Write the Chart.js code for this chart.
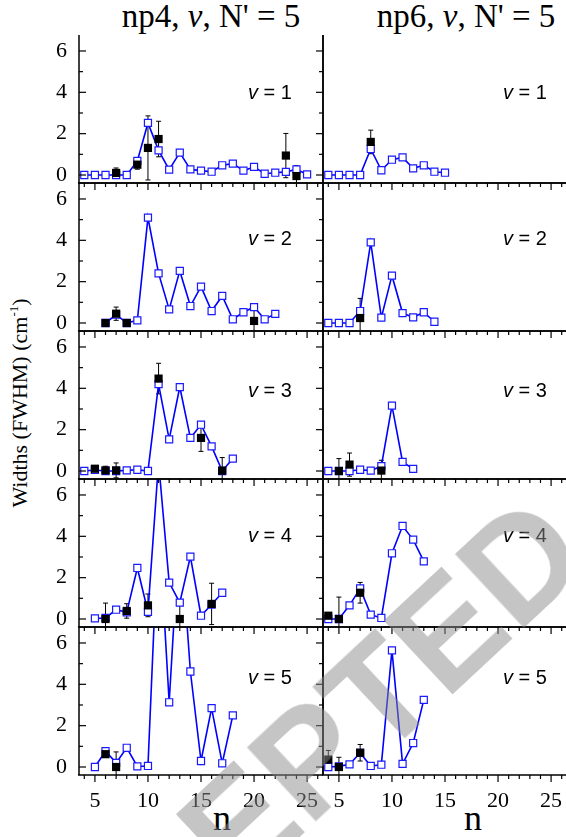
<!DOCTYPE html>
<html>
<head>
<meta charset="utf-8">
<script src="https://cdn.jsdelivr.net/npm/chart.js@4.4.1/dist/chart.umd.min.js"></script>
<style>
  body { margin: 0; width: 566px; height: 837px; overflow: hidden; background: #fff; position: relative; font-family: "Liberation Serif", serif; color: #000; }
  canvas { position: absolute; }
  .hdr { position: absolute; top: 0px; font-size: 33px; line-height: 33px; white-space: nowrap; transform: translateX(-50%); }
  .xt { position: absolute; top: 800px; font-size: 36px; line-height: 36px; transform: translateX(-50%); }
  .yt { position: absolute; left: 20px; top: 403px; font-size: 22px; line-height: 22px; white-space: nowrap; transform: translate(-50%, -50%) rotate(-90deg); }
  .yt sup { font-size: 13px; vertical-align: 9px; line-height: 0; }
  .wm { position: absolute; left: 266px; top: 800px; font: bold 146px "Liberation Sans", sans-serif; line-height: 146px; color: rgba(140,140,140,0.5); white-space: nowrap; transform: translate(-50%, -50%) rotate(-43deg); pointer-events: none; z-index: 5; }
</style>
</head>
<body>
<div class="hdr" style="left:211px">np4, <i>v</i>, N' = 5</div>
<div class="hdr" style="left:466px">np6, <i>v</i>, N' = 5</div>
<div class="yt">Widths (FWHM) (cm<sup>-1</sup>)</div>
<div class="xt" style="left:222px">n</div>
<div class="xt" style="left:473px">n</div>
<div class="wm">ACCEPTED</div>
<script>
// tick labels
const xTickLabels = [5, 10, 15, 20, 25];
const yTickLabels = [0, 2, 4, 6];

// np4 column: calculated widths (open blue squares)
const np4V1N = [4, 5, 6, 7, 8, 9, 10, 11, 12, 13, 14, 15, 16, 17, 18, 19, 20, 21, 22, 23, 24, 25];
const np4V1W = [0, 0, 0, 0, 0, 0.68, 2.52, 1.19, 0.26, 1.08, 0.27, 0.21, 0.16, 0.47, 0.55, 0.21, 0.39, 0.06, 0.11, 0.15, 0.27, 0.03];
const np4V2N = [6, 7, 8, 9, 10, 11, 12, 13, 14, 15, 16, 17, 18, 19, 20, 21, 22];
const np4V2W = [0, 0.4, 0, 0.13, 5.1, 2.4, 0.66, 2.52, 0.82, 1.76, 0.58, 1.31, 0.18, 0.52, 0.77, 0.18, 0.44];
const np4V3N = [4, 5, 6, 7, 8, 9, 10, 11, 12, 13, 14, 15, 16, 17, 18];
const np4V3W = [0, 0.05, 0, 0, 0.03, 0.06, 0, 4.2, 1.53, 4.06, 1.6, 2.24, 1.19, 0, 0.6];
const np4V4N = [5, 6, 7, 8, 9, 10, 11, 12, 13, 14, 15, 16, 17];
const np4V4W = [0.03, 0.05, 0.45, 0.32, 2.47, 0.35, 7.6, 1.76, 0.79, 3.02, 0.16, 0.7, 1.27];
const np4V5N = [5, 6, 7, 8, 9, 10, 11, 12, 13, 14, 15, 16, 17, 18];
const np4V5W = [0, 0.77, 0.2, 0.93, 0.03, 0.05, 12, 3.13, 11.8, 4.62, 0.29, 2.85, 0.18, 2.5];

// np4 column: measured widths (filled black squares) and errors
const np4V1ExpN = [7, 9, 10, 11, 23, 24];
const np4V1ExpW = [0.1, 0.5, 1.31, 1.74, 0.94, -0.05];
const np4V1ExpErr = [0.24, 0.22, 1.55, 0.86, 1.07, 0.5];
const np4V2ExpN = [6, 7, 8, 20];
const np4V2ExpW = [0, 0.45, 0, 0.1];
const np4V2ExpErr = [0, 0.32, 0, 0.6];
const np4V3ExpN = [5, 6, 7, 11, 15, 17];
const np4V3ExpW = [0.11, 0.03, 0.03, 4.47, 1.6, 0.02];
const np4V3ExpErr = [0.15, 0.2, 0.36, 0.74, 0.65, 0.63];
const np4V4ExpN = [6, 8, 10, 13, 16];
const np4V4ExpW = [0, 0.39, 0.66, 0, 0.73];
const np4V4ExpErr = [0.77, 0.35, 0.55, 0.8, 1.0];
const np4V5ExpN = [6, 7];
const np4V5ExpW = [0.62, 0];
const np4V5ExpErr = [0, 0.73];

// np6 column: calculated widths
const np6V1N = [4, 5, 6, 7, 8, 9, 10, 11, 12, 13, 14, 15];
const np6V1W = [0, 0, 0, 0, 1.26, 0.23, 0.74, 0.85, 0.32, 0.47, 0.16, 0.11];
const np6V2N = [4, 5, 6, 7, 8, 9, 10, 11, 12, 13, 14];
const np6V2W = [0, 0, 0, 0.58, 3.9, 0.26, 2.29, 0.48, 0.27, 0.52, 0.06];
const np6V3N = [4, 5, 6, 7, 8, 9, 10, 11, 12];
const np6V3W = [0, 0, 0, 0.06, 0.02, 0.23, 3.16, 0.44, 0.1];
const np6V4N = [4, 5, 6, 7, 8, 9, 10, 11, 12, 13];
const np6V4W = [0, 0, 0.66, 1.48, 0.21, 0.05, 3.18, 4.5, 3.84, 2.79];
const np6V5N = [4, 5, 6, 7, 8, 9, 10, 11, 12, 13];
const np6V5W = [0, 0.03, 0.13, 0.68, 0.05, 0.11, 5.64, 0.15, 1.16, 3.25];

// np6 column: measured widths
const np6V1ExpN = [8];
const np6V1ExpW = [1.6];
const np6V1ExpErr = [0.57];
const np6V2ExpN = [7];
const np6V2ExpW = [0.24];
const np6V2ExpErr = [0.95];
const np6V3ExpN = [5, 6, 9];
const np6V3ExpW = [0, 0.31, 0.02];
const np6V3ExpErr = [0.6, 0.56, 0.5];
const np6V4ExpN = [4, 5, 7];
const np6V4ExpW = [0.16, 0, 1.27];
const np6V4ExpErr = [0, 1.06, 0.5];
const np6V5ExpN = [4, 5, 7];
const np6V5ExpW = [0.36, 0, 0.69];
const np6V5ExpErr = [0.44, 0.47, 0.4];

const panels = [
  [np4V1N, np4V1W, np4V1ExpN, np4V1ExpW, np4V1ExpErr, np6V1N, np6V1W, np6V1ExpN, np6V1ExpW, np6V1ExpErr],
  [np4V2N, np4V2W, np4V2ExpN, np4V2ExpW, np4V2ExpErr, np6V2N, np6V2W, np6V2ExpN, np6V2ExpW, np6V2ExpErr],
  [np4V3N, np4V3W, np4V3ExpN, np4V3ExpW, np4V3ExpErr, np6V3N, np6V3W, np6V3ExpN, np6V3ExpW, np6V3ExpErr],
  [np4V4N, np4V4W, np4V4ExpN, np4V4ExpW, np4V4ExpErr, np6V4N, np6V4W, np6V4ExpN, np6V4ExpW, np6V4ExpErr],
  [np4V5N, np4V5W, np4V5ExpN, np4V5ExpW, np4V5ExpErr, np6V5N, np6V5W, np6V5ExpN, np6V5ExpW, np6V5ExpErr]
];

// layout (pixels)
const ROW_TOP = [35, 183, 331, 479, 627];
const ROW_H = 148;
const LABEL_DY = [58, 56, 60, 57, 51];

Chart.defaults.font.family = '"Liberation Serif", serif';
Chart.defaults.color = '#000';

const pts = (xs, ys) => xs.map((x, i) => ({ x, y: ys[i] }));

function line(ctx, x1, y1, x2, y2) {
  ctx.beginPath(); ctx.moveTo(x1, y1); ctx.lineTo(x2, y2); ctx.stroke();
}

// no extra room for the first/last tick label
function noPad(s) {
  s.paddingTop = 0; s.paddingBottom = 0; s.paddingLeft = 0; s.paddingRight = 0;
}

const framePlugin = {
  id: 'frame',
  beforeDatasetsDraw(chart, args, opts) {
    // error bars of the measured widths
    const { ctx, chartArea: a, scales: { x, y } } = chart;
    const data = chart.data.datasets[0].data;
    ctx.save();
    ctx.beginPath(); ctx.rect(a.left, a.top, a.right - a.left, a.bottom - a.top); ctx.clip();
    ctx.strokeStyle = '#000'; ctx.lineWidth = 1;
    opts.err.forEach((e, i) => {
      if (!e) return;
      const px = x.getPixelForValue(data[i].x);
      const y1 = y.getPixelForValue(data[i].y + e);
      const y2 = y.getPixelForValue(data[i].y - e);
      line(ctx, px, y1, px, y2);
      line(ctx, px - 2.5, y1, px + 2.5, y1);
      line(ctx, px - 2.5, y2, px + 2.5, y2);
    });
    ctx.restore();
  },
  afterDraw(chart, args, opts) {
    const { ctx, chartArea: a, scales: { x, y } } = chart;
    ctx.save();
    ctx.strokeStyle = '#000';
    ctx.lineWidth = 1.5;
    line(ctx, a.left, a.top - (opts.row === 0 ? 0 : 1), a.left, a.bottom);
    line(ctx, a.right, a.top - (opts.row === 0 ? 0 : 1), a.right, a.bottom);
    line(ctx, a.left - 1, a.bottom, a.right, a.bottom);
    if (opts.row > 0) line(ctx, a.left - 1, a.top, a.right, a.top);
    ctx.lineWidth = 1.2;
    for (let v = 0; v <= 6; v++) {
      const py = y.getPixelForValue(v);
      const len = v % 2 === 0 ? 7 : 4;
      if (opts.col === 0) {
        line(ctx, a.left, py, a.left + len, py);
        line(ctx, a.right, py, a.right - len, py);
      }
    }
    for (let n = 4; n <= 26; n++) {
      const px = x.getPixelForValue(n);
      const len = n % 5 === 0 ? 7 : 4;
      if (opts.row > 0) line(ctx, px, a.top, px, a.top + len);
      if (opts.row === 4) line(ctx, px, a.bottom, px, a.bottom + len);
    }
    // v = k label
    const lx = a.left + (opts.col === 0 ? 169 : 180);
    const ly = a.top + LABEL_DY[opts.row];
    ctx.fillStyle = '#000';
    ctx.textBaseline = 'middle';
    ctx.font = 'italic 20px "Liberation Sans"';
    ctx.fillText('v', lx, ly);
    const w = ctx.measureText('v').width;
    ctx.font = '20px "Liberation Sans"';
    ctx.fillText(' = ' + (opts.row + 1), lx + w, ly);
    ctx.restore();
  }
};

panels.forEach((p, row) => {
  [0, 1].forEach(col => {
    const [n, w, en, ew, ee] = p.slice(col * 5, col * 5 + 5);
    const cv = document.createElement('canvas');
    const left = col === 0 ? 0 : 313;
    const width = col === 0 ? 333 : 254;
    const top = ROW_TOP[row] - 10;
    const height = row === 4 ? 837 - top : ROW_H + 20;
    cv.width = width; cv.height = height;
    cv.style.left = left + 'px'; cv.style.top = top + 'px';
    cv.style.width = width + 'px'; cv.style.height = height + 'px';
    document.body.appendChild(cv);

    const showX = row === 4;
    const showY = col === 0;
    new Chart(cv, {
      type: 'line',
      data: {
        datasets: [
          {
            data: pts(en, ew), showLine: false, order: 0,
            pointStyle: 'rect', pointRadius: 5.8, pointBorderWidth: 0,
            pointBackgroundColor: '#000', borderColor: '#000'
          },
          {
            data: pts(n, w), order: 1, tension: 0,
            borderColor: '#0000ff', borderWidth: 1.6,
            pointStyle: 'rect', pointRadius: 5, pointBorderWidth: 1.2,
            pointBackgroundColor: '#fff', pointBorderColor: '#1a1aff'
          }
        ]
      },
      options: {
        responsive: false,
        animation: false,
        events: [],
        layout: {
          autoPadding: false,
          padding: { top: 10, bottom: showX ? 0 : 10, left: showY ? 0 : 10, right: showY ? 10 : 0 }
        },
        plugins: {
          legend: { display: false },
          tooltip: { enabled: false },
          frame: { row, col, err: ee }
        },
        scales: {
          x: {
            type: 'linear', min: 3.5, max: 26.5,
            display: showX,
            grid: { display: false, drawTicks: false },
            border: { display: false },
            ticks: { font: { size: 22 }, padding: 13, maxRotation: 0, autoSkip: false },
            afterBuildTicks: s => { s.ticks = xTickLabels.map(v => ({ value: v })); },
            afterFit: s => { noPad(s); if (showX) s.height = 62; }
          },
          y: {
            type: 'linear', min: -0.387, max: 6.773,
            display: showY,
            grid: { display: false, drawTicks: false },
            border: { display: false },
            ticks: { font: { size: 22 }, padding: 12 },
            afterBuildTicks: s => { s.ticks = yTickLabels.map(v => ({ value: v })); },
            afterFit: s => { noPad(s); if (showY) s.width = 79; }
          }
        }
      },
      plugins: [framePlugin]
    });
  });
});
</script>
</body>
</html>
